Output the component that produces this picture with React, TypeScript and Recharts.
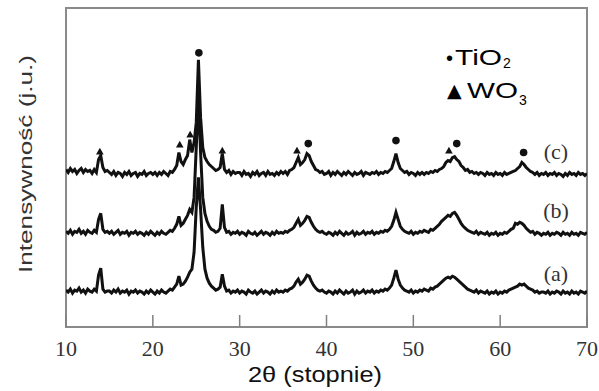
import React from 'react';
import {
  ComposedChart, Line, Scatter, XAxis, YAxis, ReferenceArea,
} from 'recharts';

// 2θ sampling positions, 0.25° step from 10 to 70
const theta = Array.from({ length: 241 }, (_, i) => 10 + i * 0.25);

// intensities (arbitrary units, stacked with offsets as in the figure)
const sampleC = [
  158, 155, 159, 156, 158, 154, 157, 159, 155, 158, 156, 157, 154, 158, 155, 168, 172, 160, 156, 157,
  155, 153, 156, 152, 155, 154, 151, 155, 153, 156, 152, 154, 155, 151, 154, 153, 156, 152, 154, 155,
  153, 155, 152, 155, 153, 156, 154, 152, 156, 155, 158, 162, 175, 166, 163, 168, 172, 188, 175, 185,
  205, 268, 210, 180, 170, 166, 163, 161, 159, 157, 158, 160, 174, 158, 155, 157, 153, 156, 154, 155,
  155, 152, 156, 153, 154, 151, 155, 153, 156, 152, 154, 155, 152, 156, 153, 154, 152, 155, 153, 156,
  154, 156, 153, 157, 158, 160, 165, 170, 163, 165, 168, 174, 172, 166, 162, 158, 157, 155, 156, 153,
  154, 156, 152, 155, 153, 156, 154, 152, 155, 153, 156, 154, 152, 155, 153, 154, 156, 152, 155, 154,
  153, 155, 154, 156, 153, 155, 154, 156, 155, 157, 159, 166, 174, 165, 159, 157, 155, 156, 153, 155,
  154, 152, 155, 153, 155, 153, 155, 154, 156, 155, 157, 156, 158, 159, 161, 165, 167, 166, 170, 171,
  168, 166, 162, 160, 157, 158, 155, 156, 154, 155, 153, 155, 154, 152, 155, 153, 154, 152, 155, 153,
  154, 152, 155, 153, 154, 155, 156, 157, 159, 161, 165, 163, 160, 158, 156, 155, 153, 155, 152, 154,
  153, 155, 152, 154, 153, 155, 152, 154, 153, 151, 154, 152, 155, 153, 154, 152, 155, 153, 154, 152,
  154,
];

const sampleB = [
  96, 94, 97, 93, 96, 95, 98, 94, 96, 93, 97, 95, 94, 97, 95, 108, 114, 98, 95, 96,
  94, 96, 93, 95, 97, 93, 95, 94, 96, 92, 95, 94, 96, 93, 95, 94, 92, 95, 93, 96,
  94, 92, 95, 93, 96, 94, 93, 95, 97, 96, 99, 103, 111, 102, 104, 108, 112, 118, 115, 130,
  180, 230, 175, 130, 114, 106, 101, 98, 97, 95, 96, 99, 123, 100, 95, 96, 93, 95, 94, 96,
  93, 95, 94, 92, 96, 94, 93, 95, 92, 94, 96, 93, 95, 94, 92, 95, 93, 96, 94, 95,
  94, 96, 95, 97, 98, 100, 104, 108, 102, 104, 107, 111, 110, 105, 101, 98, 96, 95, 96, 94,
  93, 95, 94, 92, 95, 93, 96, 94, 92, 95, 93, 94, 96, 92, 95, 93, 94, 96, 93, 95,
  94, 96, 93, 95, 94, 96, 95, 97, 96, 98, 101, 107, 115, 108, 101, 98, 96, 95, 94, 96,
  93, 95, 94, 96, 95, 97, 96, 95, 98, 97, 99, 101, 103, 106, 108, 110, 112, 111, 114, 115,
  112, 108, 104, 101, 99, 97, 96, 95, 94, 96, 93, 95, 94, 93, 95, 92, 94, 93, 95, 92,
  94, 93, 95, 94, 96, 98, 99, 104, 103, 105, 104, 102, 99, 97, 95, 96, 93, 95, 94, 92,
  94, 93, 95, 92, 94, 93, 95, 94, 92, 95, 93, 94, 92, 95, 93, 94, 92, 95, 94, 93,
  95,
];

const sampleA = [
  37, 35, 38, 34, 37, 36, 39, 35, 37, 34, 38, 36, 35, 38, 36, 52, 59, 38, 35, 36,
  36, 34, 37, 35, 38, 34, 36, 35, 37, 33, 36, 35, 37, 34, 36, 35, 33, 36, 34, 37,
  35, 33, 36, 34, 37, 35, 34, 36, 38, 37, 40, 43, 51, 42, 43, 46, 50, 55, 58, 75,
  120, 150, 118, 80, 58, 49, 44, 41, 39, 37, 38, 40, 53, 41, 36, 37, 34, 36, 35, 37,
  34, 36, 35, 33, 37, 35, 34, 36, 33, 35, 37, 34, 36, 35, 33, 36, 34, 37, 35, 36,
  35, 37, 36, 38, 39, 41, 45, 48, 43, 45, 48, 52, 51, 46, 42, 39, 37, 36, 37, 35,
  34, 36, 35, 33, 36, 34, 37, 35, 33, 36, 34, 35, 37, 33, 36, 34, 35, 37, 34, 36,
  35, 37, 34, 36, 35, 37, 36, 38, 37, 39, 42, 49, 57, 48, 42, 39, 37, 36, 35, 37,
  34, 36, 35, 37, 36, 38, 37, 36, 39, 38, 40, 41, 43, 45, 47, 49, 50, 49, 51, 50,
  48, 46, 44, 42, 40, 38, 37, 36, 35, 37, 34, 36, 35, 34, 36, 33, 35, 34, 36, 33,
  35, 34, 36, 35, 37, 38, 39, 40, 41, 43, 42, 43, 41, 39, 38, 37, 35, 36, 34, 35,
  35, 34, 36, 33, 35, 34, 36, 35, 33, 36, 34, 35, 33, 36, 34, 35, 33, 36, 35, 34,
  36,
];

// phase markers above peaks of (c)
const tio2Theta = [25.3, 37.9, 48.0, 55.0, 62.7];
const tio2Y = [275, 184, 187, 184, 175];
const wo3Theta = [13.9, 23.1, 24.3, 28.0, 36.6, 54.1];
const wo3Y = [176, 183, 193, 177, 177, 177];

const xTicks = [10, 20, 30, 40, 50, 60, 70];

const rows = theta.map((t, i) => ({ t, a: sampleA[i], b: sampleB[i], c: sampleC[i] }));
const tio2Points = tio2Theta.map((t, i) => ({ t, y: tio2Y[i] }));
const wo3Points = wo3Theta.map((t, i) => ({ t, y: wo3Y[i] }));

const DotMark = (props: any) => {
  const { cx, cy } = props;
  return <circle cx={cx} cy={cy} r={3.8} fill="#111" />;
};

const TriMark = (props: any) => {
  const { cx, cy } = props;
  return <path d={`M${cx},${cy - 3.8} L${cx + 3.8},${cy + 3} L${cx - 3.8},${cy + 3} Z`} fill="#111" />;
};

const sans = 'Arial, "Liberation Sans", sans-serif';
const serif = '"Times New Roman", "Liberation Serif", serif';

export default function App() {
  return (
    <div style={{ position: 'absolute', left: 0, top: 0, width: 599, height: 391, background: '#fff' }}>
      <ComposedChart
        width={599}
        height={391}
        data={rows}
        margin={{ top: 8, right: 12, left: 66, bottom: 34 }}
      >
        <XAxis
          type="number"
          dataKey="t"
          domain={[10, 70]}
          ticks={xTicks}
          allowDataOverflow
          height={30}
          axisLine={false}
          tickSize={-12}
          tickMargin={25}
          tickLine={{ stroke: '#808080', strokeWidth: 1.5 }}
          tick={{ fontSize: 22, fontFamily: serif, fill: '#333' }}
        />
        <YAxis type="number" dataKey="y" domain={[0, 320]} hide allowDataOverflow />
        <ReferenceArea x1={10} x2={70} y1={0} y2={320} fill="none" stroke="#8a8a8a" strokeWidth={2} />
        <Line dataKey="a" stroke="#111" strokeWidth={3} dot={false} type="linear" isAnimationActive={false} />
        <Line dataKey="b" stroke="#111" strokeWidth={3} dot={false} type="linear" isAnimationActive={false} />
        <Line dataKey="c" stroke="#111" strokeWidth={3} dot={false} type="linear" isAnimationActive={false} />
        <Scatter data={tio2Points} dataKey="y" shape={<DotMark />} isAnimationActive={false} />
        <Scatter data={wo3Points} dataKey="y" shape={<TriMark />} isAnimationActive={false} />
      </ComposedChart>
      <svg
        width={599}
        height={391}
        style={{ position: 'absolute', left: 0, top: 0, pointerEvents: 'none' }}
      >
        <text x={556} y={159} textAnchor="middle" fontFamily={serif} fontSize={22} fill="#333">(c)</text>
        <text x={556} y={218} textAnchor="middle" fontFamily={serif} fontSize={22} fill="#333">(b)</text>
        <text x={556} y={281} textAnchor="middle" fontFamily={serif} fontSize={22} fill="#333">(a)</text>

        <text x={446} y={65} fontFamily={sans} fontSize={20} fill="#000">•</text>
        <text x={455} y={65} fontFamily={sans} fontSize={22} fill="#000" textLength={47} lengthAdjust="spacingAndGlyphs">TiO</text>
        <text x={503} y={68} fontFamily={sans} fontSize={14} fill="#000">2</text>
        <text x={447} y={97} fontFamily='"DejaVu Sans", sans-serif' fontSize={19} fill="#000">▲</text>
        <text x={467} y={98} fontFamily={sans} fontSize={22} fill="#000" textLength={51} lengthAdjust="spacingAndGlyphs">WO</text>
        <text x={519} y={105} fontFamily={sans} fontSize={14} fill="#000">3</text>

        <text x={248} y={382} fontFamily={sans} fontSize={22} fill="#111" textLength={134} lengthAdjust="spacingAndGlyphs">2θ (stopnie)</text>
        <text
          x={0}
          y={0}
          transform="translate(32,164) rotate(-90)"
          textAnchor="middle"
          fontFamily={sans}
          fontSize={18}
          fill="#333"
          textLength={218}
          lengthAdjust="spacingAndGlyphs"
        >
          Intensywność (j.u.)
        </text>
      </svg>
    </div>
  );
}
